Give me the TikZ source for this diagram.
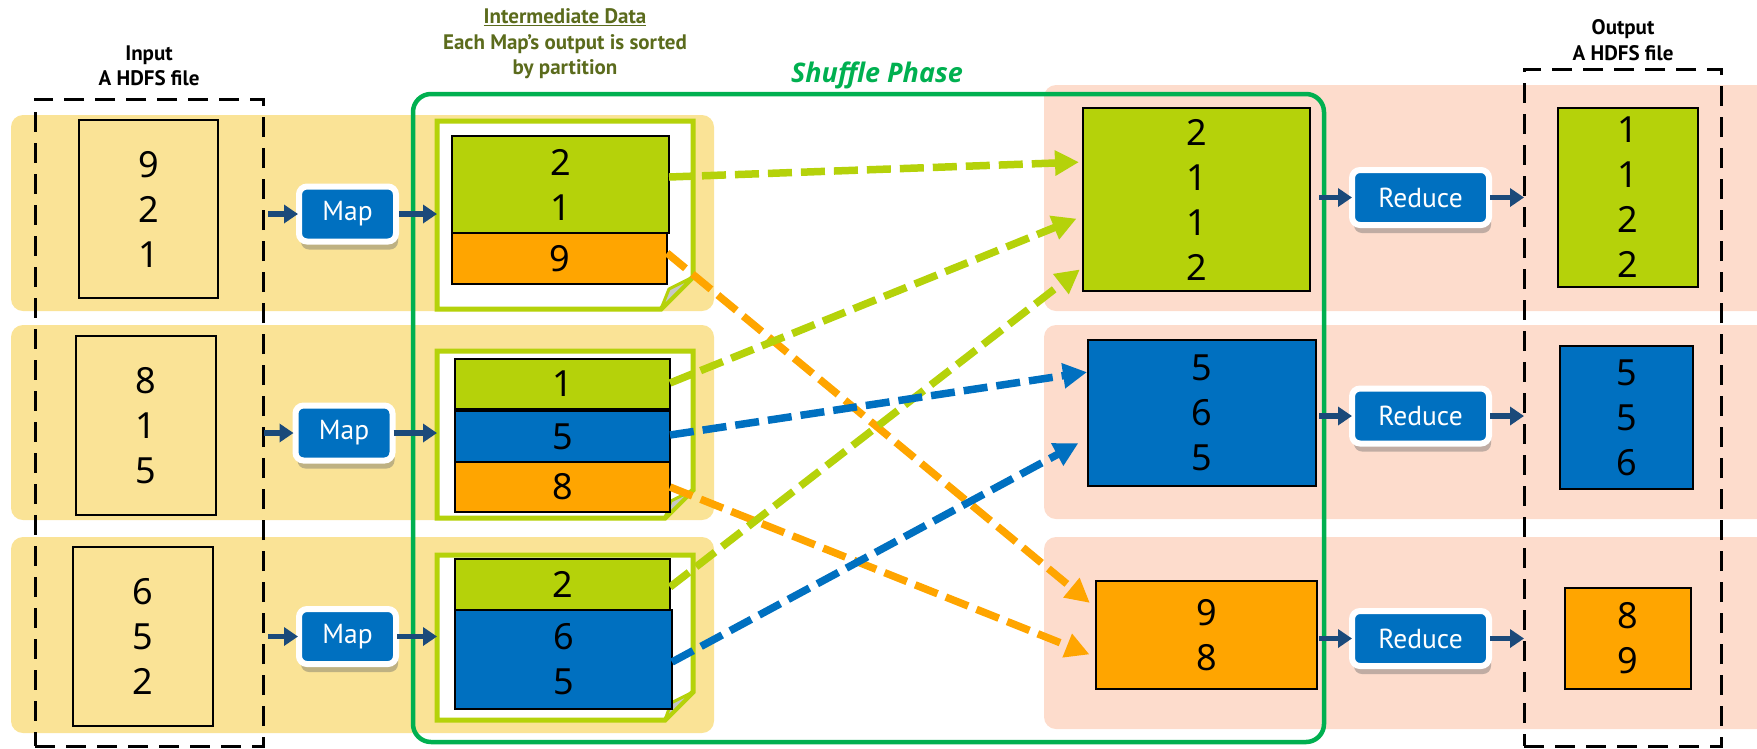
\documentclass[tikz,border=0pt]{standalone}
\usepackage{fontspec}
\setmainfont{PT Sans}
\newfontfamily\digitfont{Noto Sans}
\newfontfamily\shuffont{Open Sans}
\usetikzlibrary{arrows.meta,shadows,calc}
\definecolor{bandY}{HTML}{FAE396}
\definecolor{bandS}{HTML}{FDDCCC}
\definecolor{lime}{HTML}{B5D20A}
\definecolor{orng}{HTML}{FFA500}
\definecolor{blu}{HTML}{0070C0}
\definecolor{shgreen}{HTML}{00B050}
\definecolor{olive}{HTML}{5B6B1C}
\definecolor{navy}{HTML}{1B4A7A}
\newcommand\numfont{\digitfont\fontsize{36}{45}\selectfont}
\begin{document}
\begin{tikzpicture}[x=1pt,y=-1pt,
  every node/.style={inner sep=0pt, outer sep=0pt},
  ybandstyle/.style={fill=bandY, rounded corners=12pt},
  sbandstyle/.style={fill=bandS, rounded corners=12pt},
  dashbox/.style={draw=black, line width=3pt, dash pattern=on 20pt off 11pt},
  numbox/.style={draw=black, line width=1.8pt, align=center, font=\numfont},
  docnode/.style={minimum width=256pt},
  docshape/.style={draw=lime, fill=white, line width=5pt, line join=miter},
  flapstyle/.style={draw=lime, fill=black!22, line width=3pt, line join=round},
  procbox/.style={fill=blu, draw=white, line width=6pt, rounded corners=8pt, minimum height=55pt,
     text=white, font=\fontsize{27.5}{30}\selectfont,
     drop shadow={fill=black!60, opacity=0.4, shadow xshift=2pt, shadow yshift=-8pt}},
  navyarrow/.style={draw=navy, line width=5.5pt, -{Triangle[length=14pt,width=18pt]}},
  flow/.style={line width=7.5pt, dash pattern=on 24pt off 9pt, -{Triangle[length=24pt,width=24pt]}},
  hdr/.style={font=\bfseries\fontsize{21}{25.5}\selectfont, align=center}
]
\useasboundingbox (0,0) rectangle (1757,748);
\clip (0,0) rectangle (1757,748);

% bands
\fill[ybandstyle] (11,115) rectangle (714,311);
\fill[ybandstyle] (11,325) rectangle (714,520);
\fill[ybandstyle] (11,537) rectangle (714,733);
\fill[sbandstyle] (1044,85) rectangle (1790,311);
\fill[sbandstyle] (1044,325) rectangle (1790,519);
\fill[sbandstyle] (1044,537) rectangle (1790,729);

% headers
\node[hdr] (inlabel) at (149,66) {Input\\A HDFS file};
\node[hdr] (outlabel) at (1623,40) {Output\\A HDFS file};
\node[hdr, text=olive] (midlabel) at (565,44) {\underline{Intermediate Data}\\Each Map's output is sorted\\by partition};
\node[font=\shuffont\bfseries\itshape\fontsize{27}{32}\selectfont, text=shgreen] (shuf) at (877,75) {Shuffle Phase};

% dashed file boxes
\node[dashbox, minimum width=228pt, minimum height=647pt] (inbox) at (149,422.5) {};
\node[dashbox, minimum width=197pt, minimum height=677pt] (outbox) at (1622.5,407.5) {};

% input boxes
\node[numbox, minimum width=139pt, minimum height=178pt] (in1) at (148.5,209) {9\\2\\1};
\node[numbox, minimum width=140pt, minimum height=179pt] (in2) at (146,425.5) {8\\1\\5};
\node[numbox, minimum width=140pt, minimum height=179pt] (in3) at (143,636.5) {6\\5\\2};

% intermediate documents
\node[docnode, minimum height=188pt] (doc1) at (565,215) {};
\node[docnode, minimum height=167pt] (doc2) at (565,434.5) {};
\node[docnode, minimum height=165pt] (doc3) at (565,637.5) {};
\draw[docshape] (doc1.north west) -- (doc1.north east) -- ([yshift=32pt]doc1.south east) -- ([xshift=-32pt]doc1.south east) -- (doc1.south west) -- cycle;
\draw[docshape] (doc2.north west) -- (doc2.north east) -- ([yshift=28pt]doc2.south east) -- ([xshift=-28pt]doc2.south east) -- (doc2.south west) -- cycle;
\draw[docshape] (doc3.north west) -- (doc3.north east) -- ([yshift=28pt]doc3.south east) -- ([xshift=-28pt]doc3.south east) -- (doc3.south west) -- cycle;
\draw[flapstyle] ([yshift=32pt]doc1.south east) -- ([xshift=-24pt,yshift=20pt]doc1.south east) -- ([xshift=-32pt]doc1.south east) -- cycle;
\draw[flapstyle] ([yshift=28pt]doc2.south east) -- ([xshift=-22pt,yshift=17pt]doc2.south east) -- ([xshift=-28pt]doc2.south east) -- cycle;
\draw[flapstyle] ([yshift=28pt]doc3.south east) -- ([xshift=-22pt,yshift=17pt]doc3.south east) -- ([xshift=-28pt]doc3.south east) -- cycle;

% intermediate partitions
\node[numbox, fill=lime, minimum width=217pt, minimum height=97pt] (g1) at (560.5,184.5) {2\\1};
\node[numbox, fill=orng, minimum width=215pt, minimum height=51pt] (o1) at (559.5,258.5) {9};
\node[numbox, fill=lime, minimum width=215pt, minimum height=50pt] (g2) at (562.5,384) {1};
\node[numbox, fill=blu, minimum width=215pt, minimum height=51pt] (b2) at (562.5,436.5) {5};
\node[numbox, fill=orng, minimum width=215pt, minimum height=50pt] (o2) at (562.5,487) {8};
\node[numbox, fill=lime, minimum width=215pt, minimum height=51pt] (g3) at (562.5,584.5) {2};
\node[numbox, fill=blu, minimum width=217pt, minimum height=99pt] (b3) at (563.5,659.5) {6\\5};

% shuffle phase frame
\draw[shgreen, line width=4.5pt, rounded corners=18pt] (413,94) rectangle (1324,742);

% reduce inputs
\node[numbox, fill=lime, minimum width=227pt, minimum height=183pt] (r1) at (1196.5,199.5) {2\\1\\1\\2};
\node[numbox, fill=blu, minimum width=228pt, minimum height=146pt] (r2) at (1202,413) {5\\6\\5};
\node[numbox, fill=orng, minimum width=221pt, minimum height=108pt] (r3) at (1206.5,635) {9\\8};

% outputs
\node[numbox, fill=lime, minimum width=140pt, minimum height=179pt] (out1) at (1628,197.5) {1\\1\\2\\2};
\node[numbox, fill=blu, minimum width=133pt, minimum height=143pt] (out2) at (1626.5,417.5) {5\\5\\6};
\node[numbox, fill=orng, minimum width=126pt, minimum height=101pt] (out3) at (1628,638.5) {8\\9};

% map / reduce boxes
\node[procbox, minimum width=97pt] (map1) at (347.5,214) {Map};
\node[procbox, minimum width=97pt] (map2) at (344,433) {Map};
\node[procbox, minimum width=97pt] (map3) at (347.5,636.5) {Map};
\node[procbox, minimum width=137pt] (red1) at (1420.5,197.5) {Reduce};
\node[procbox, minimum width=137pt] (red2) at (1420.5,416) {Reduce};
\node[procbox, minimum width=137pt] (red3) at (1420.5,638.5) {Reduce};

% navy arrows
\draw[navyarrow, shorten <=5pt, shorten >=1pt] (inbox.east |- map1) -- (map1.west);
\draw[navyarrow, shorten <=1pt, shorten >=2pt] (inbox.east |- map2) -- (map2.west);
\draw[navyarrow, shorten <=5pt, shorten >=1pt] (inbox.east |- map3) -- (map3.west);
\draw[navyarrow, shorten <=3pt] (map1.east) -- (doc1.west |- map1);
\draw[navyarrow, shorten <=1pt] (map2.east) -- (doc2.west |- map2);
\draw[navyarrow, shorten <=1pt] (map3.east) -- (doc3.west |- map3);
\draw[navyarrow, shorten <=9pt] (r1.east |- red1) -- (red1.west);
\draw[navyarrow, shorten <=3pt] (r2.east |- red2) -- (red2.west);
\draw[navyarrow, shorten <=2pt] (r3.east |- red3) -- (red3.west);
\draw[navyarrow, shorten <=1pt] (red1.east) -- (outbox.west |- red1);
\draw[navyarrow, shorten <=1pt] (red2.east) -- (outbox.west |- red2);
\draw[navyarrow, shorten <=1pt] (red3.east) -- (outbox.west |- red3);

% shuffle flows
\draw[flow, orng, shorten >=8pt] (o1.east |- 0,253) -- (r3.west |- 0,608);
\draw[flow, orng, shorten >=7pt] (o2.east) -- (r3.west |- 0,657);
\draw[flow, lime, shorten >=4pt] (g1.east |- 0,177) -- (r1.west |- 0,162);
\draw[flow, lime, shorten >=7pt] (g2.east |- 0,383) -- (r1.west |- 0,216);
\draw[flow, lime, shorten >=4pt] (g3.east |- 0,587) -- (r1.west |- 0,267);
\draw[flow, blu, shorten >=1pt] (b2.east |- 0,435) -- (r2.west |- 0,372);
\draw[flow, blu, shorten >=11pt] (b3.east |- 0,662) -- (r2.west |- 0,438);
\end{tikzpicture}
\end{document}
